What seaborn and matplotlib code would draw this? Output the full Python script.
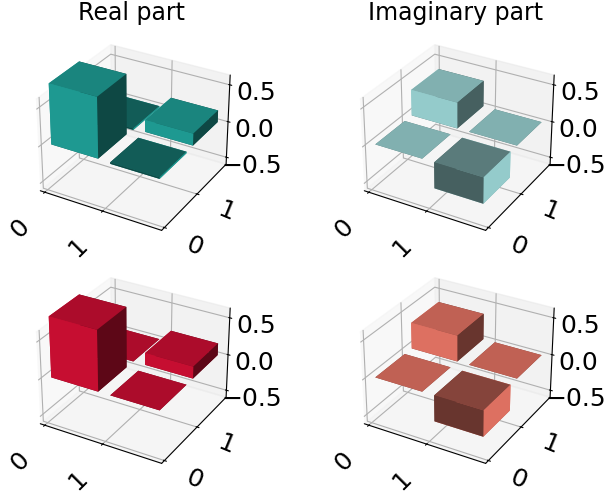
import numpy as np
import seaborn as sns
import matplotlib
matplotlib.use("Agg")
import matplotlib.pyplot as plt

sns.set_style("white", {'axes.edgecolor': 'black', 'text.color': 'black',
                        'xtick.color': 'black', 'ytick.color': 'black',
                        'grid.color': '#b0b0b0'})
plt.rcParams['font.family'] = ['DejaVu Sans']

basis = ['0', '1']
z_ticks = [-0.5, 0.0, 0.5]
z_labels = ['\u22120.5', '0.0', '0.5']

# density matrix values, row = y index, column = x index
top_real = [[0.80, -0.02], [-0.02, 0.16]]
top_imag = [[0.0, -0.35], [0.35, 0.0]]
bottom_real = [[0.80, 0.0], [0.0, 0.16]]
bottom_imag = [[0.0, -0.35], [0.35, 0.0]]

panels = [
    (top_real, '#22ada4', 'Real part'),
    (top_imag, '#a8e6e6', 'Imaginary part'),
    (bottom_real, '#e01038', None),
    (bottom_imag, '#fa7f6e', None),
]

fig = plt.figure(figsize=(6.04, 4.93), dpi=100)
size = 216
# centre of each panel in pixels
centres = [(132, 136), (456, 136), (132, 369), (456, 369)]

for i, (matrix, color, title) in enumerate(panels):
    cx, cy = centres[i]
    ax = fig.add_axes([(cx - size / 2) / 604, 1 - (cy + size / 2) / 493, size / 604, size / 493],
                      projection='3d')
    ax.patch.set_alpha(0)
    matrix = np.array(matrix)
    # draw far bars first so the nearer ones cover them
    for y in [1, 0]:
        for x in [0, 1]:
            ax.bar3d(x + 0.04, y + 0.08, 0, 0.8, 0.8, matrix[y, x], color=color, shade=True,
                     edgecolor='none', linewidth=0)

    ax.set_xlim(-0.08, 1.97)
    ax.set_ylim(-0.08, 1.97)
    ax.set_zlim(-0.6, 0.63)
    ax.set_xticks([0, 1])
    ax.set_yticks([0, 1])
    ax.set_zticks(z_ticks)
    ax.set_xticklabels(basis, fontsize=18, rotation=45, ha='right', va='top')
    ax.set_yticklabels(basis, fontsize=18, rotation=-22.5, ha='left', va='center')
    ax.set_zticklabels(z_labels, fontsize=18)
    if title:
        ax.set_title(title, fontsize=17, y=1.0, pad=18)

fig.savefig('out.png', dpi=100)
